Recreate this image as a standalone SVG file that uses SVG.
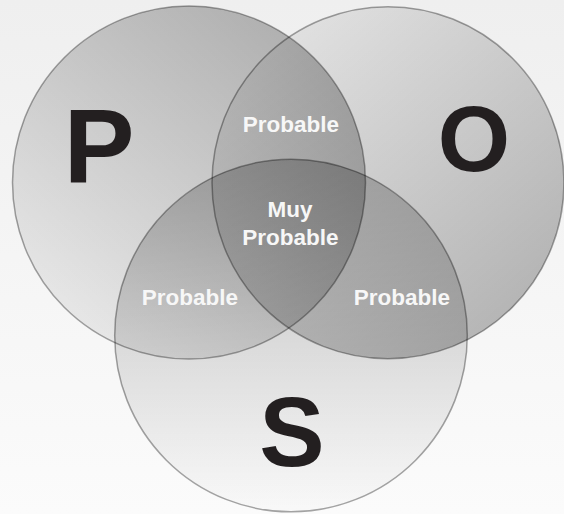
<svg xmlns="http://www.w3.org/2000/svg" width="564" height="514" viewBox="0 0 564 514">
  <defs>
    <linearGradient id="bg" x1="0" y1="0" x2="0" y2="1">
      <stop offset="0" stop-color="#efefef"/>
      <stop offset="1" stop-color="#fbfbfb"/>
    </linearGradient>
    <linearGradient id="gP" x1="0.85" y1="0.1" x2="0.15" y2="0.9">
      <stop offset="0" stop-color="#000" stop-opacity="0.27"/>
      <stop offset="1" stop-color="#000" stop-opacity="0.06"/>
    </linearGradient>
    <linearGradient id="gO" x1="0.15" y1="0.1" x2="0.85" y2="0.9">
      <stop offset="0" stop-color="#000" stop-opacity="0.06"/>
      <stop offset="1" stop-color="#000" stop-opacity="0.27"/>
    </linearGradient>
    <linearGradient id="gS" x1="0" y1="0" x2="0" y2="1">
      <stop offset="0" stop-color="#000" stop-opacity="0.23"/>
      <stop offset="1" stop-color="#000" stop-opacity="0.01"/>
    </linearGradient>
  </defs>
  <style>
    .ring { stroke: #000; stroke-opacity: 0.35; stroke-width: 1.5; }
    .big { font-family: "Liberation Sans", Arial, sans-serif; font-weight: bold; fill: #231f20; text-anchor: middle; }
    .lbl { font-family: "Liberation Sans", Arial, sans-serif; font-weight: bold; font-size: 22.5px; fill: #f7f7f7; text-anchor: middle; }
  </style>
  <rect x="0" y="0" width="564" height="514" fill="url(#bg)"/>
  <g id="circle-P">
    <circle class="ring" cx="189" cy="182.5" r="176.5" fill="url(#gP)"/>
    <text class="big" x="99" y="183" font-size="106">P</text>
  </g>
  <g id="circle-O">
    <circle class="ring" cx="388" cy="182.7" r="176" fill="url(#gO)"/>
    <text class="big" x="474" y="170.5" font-size="93">O</text>
  </g>
  <g id="circle-S">
    <circle class="ring" cx="291" cy="335.5" r="176.3" fill="url(#gS)"/>
    <text class="big" x="292" y="466" font-size="98">S</text>
  </g>
  <g id="region-PO">
    <text class="lbl" x="291" y="132">Probable</text>
  </g>
  <g id="region-PS">
    <text class="lbl" x="190" y="305">Probable</text>
  </g>
  <g id="region-OS">
    <text class="lbl" x="402" y="305">Probable</text>
  </g>
  <g id="region-POS">
    <text class="lbl" x="290" y="217">Muy</text>
    <text class="lbl" x="290.5" y="245">Probable</text>
  </g>
  <g id="connectors"/>
</svg>
